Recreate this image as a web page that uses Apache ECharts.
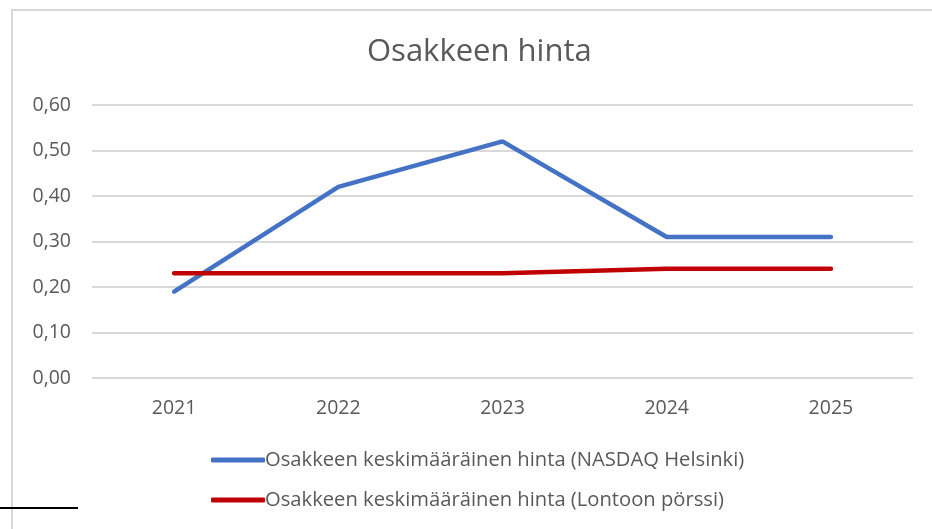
<!DOCTYPE html>
<html><head><meta charset="utf-8">
<script src="https://cdn.jsdelivr.net/npm/echarts@6/dist/echarts.min.js"></script>
<style>html,body{margin:0;padding:0;background:#fff}#c{width:932px;height:529px}</style>
</head><body><div id="c"></div>
<script>
const categories = ['2021', '2022', '2023', '2024', '2025'];
const helsinki = [0.19, 0.42, 0.52, 0.31, 0.31];
const lontoo = [0.23, 0.23, 0.23, 0.24, 0.24];
const seriesNames = ['Osakkeen keskimääräinen hinta (NASDAQ Helsinki)', 'Osakkeen keskimääräinen hinta (Lontoon pörssi)'];
const titleText = 'Osakkeen hinta';

const font = 'Open Sans, Liberation Sans, sans-serif';
const chart = echarts.init(document.getElementById('c'));
chart.setOption({
  animation: false,
  title: { text: titleText, left: 362, top: 32, textStyle: { fontFamily: font, fontSize: 31, fontWeight: 'normal', color: '#595959' } },
  grid: { left: 92, right: 19, top: 105, bottom: 151 },
  xAxis: {
    type: 'category', data: categories, boundaryGap: true,
    axisLine: { show: false }, axisTick: { show: false },
    axisLabel: { fontFamily: font, fontSize: 19.5, color: '#595959', margin: 20 }
  },
  yAxis: {
    type: 'value', min: 0, max: 0.6, interval: 0.1,
    axisLabel: { fontFamily: font, fontSize: 19.5, color: '#595959', margin: 21, formatter: v => v.toFixed(2).replace('.', ',') },
    splitLine: { lineStyle: { color: '#d9d9d9', width: 2 } }
  },
  legend: {
    orient: 'vertical', left: 206, top: 445, itemWidth: 54, itemHeight: 5, itemGap: 20,
    icon: 'roundRect',
    textStyle: { fontFamily: font, fontSize: 20.2, color: '#595959', padding: [0, 0, 0, -5] },
    data: seriesNames
  },
  series: [
    { name: seriesNames[0], type: 'line', data: helsinki, symbol: 'none', lineStyle: { color: '#4472C4', width: 4.5, cap: 'round' }, itemStyle: { color: '#4472C4' } },
    { name: seriesNames[1], type: 'line', data: lontoo, symbol: 'none', lineStyle: { color: '#C00000', width: 4.5, cap: 'round' }, itemStyle: { color: '#C00000' } }
  ],
  graphic: [
    { type: 'polyline', shape: { points: [[12, 540], [12, 10], [940, 10]] }, style: { stroke: '#d9d9d9', lineWidth: 2, fill: null } },
    { type: 'line', shape: { x1: 0, y1: 508, x2: 78, y2: 508 }, style: { stroke: '#000', lineWidth: 2 } }
  ]
});
</script></body></html>
